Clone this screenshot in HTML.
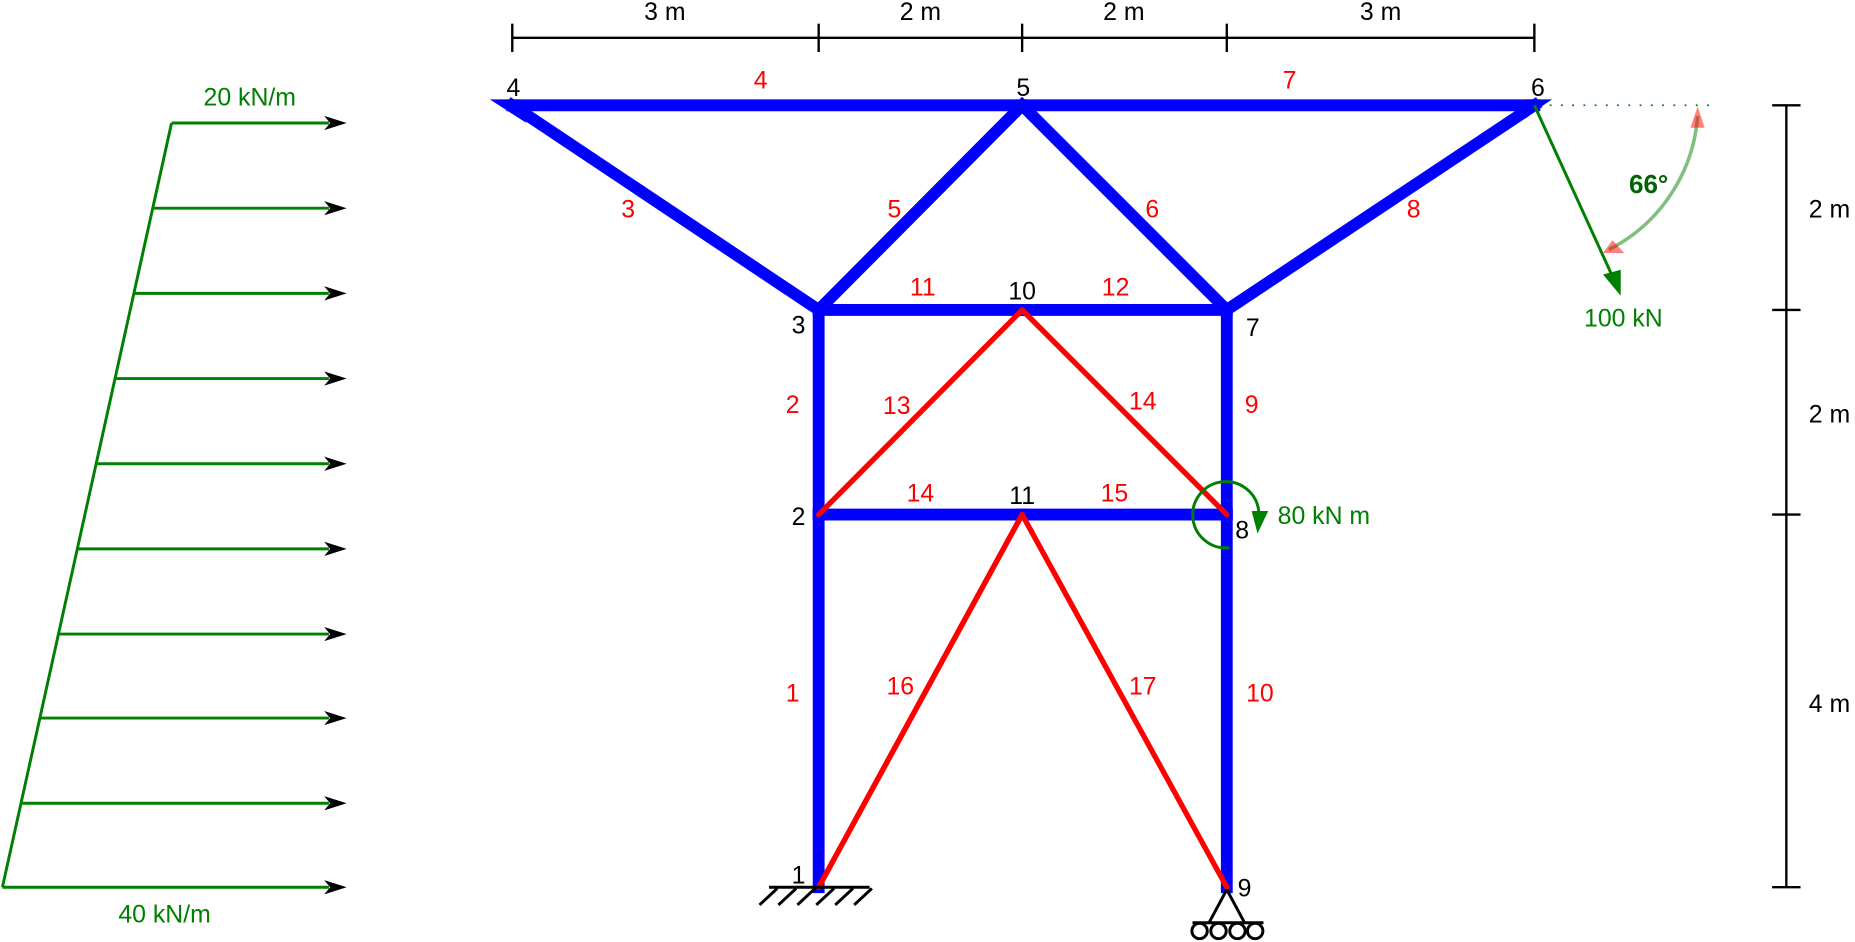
<!DOCTYPE html>
<html><head><meta charset="utf-8"><style>
html,body{margin:0;padding:0;background:#fff;}
svg{display:block;font-family:"Liberation Sans",sans-serif;}
</style></head><body>
<svg id="s" width="1855" height="942" viewBox="0 0 1568 796.3" xmlns="http://www.w3.org/2000/svg">
<g id="load"></g>
<g id="mem"></g>
<g id="lbl"></g>
<g stroke="#000" stroke-width="2.5" fill="none">
<line x1="650" y1="750" x2="735" y2="750"/>
<path d="M665,751 l-15,14 M681,751 l-15,14 M697,751 l-15,14 M713,751 l-15,14 M729,751 l-15,14 M745,751 l-15,14" transform="translate(-8,0)"/>
</g>
<g stroke="#000" stroke-width="2.5" fill="#fff">
<path d="M1037,752 L1022,780 M1037,752 L1052,780" fill="none"/>
<line x1="1008" y1="780" x2="1068" y2="780"/>
<circle cx="1014" cy="787" r="6.5"/><circle cx="1030" cy="787" r="6.5"/><circle cx="1046" cy="787" r="6.5"/><circle cx="1061" cy="787" r="6.5"/>
</g>
<g stroke="#000" stroke-width="2">
<line x1="433" y1="32" x2="1297" y2="32"/>
<line x1="433" y1="20" x2="433" y2="44"/><line x1="692" y1="20" x2="692" y2="44"/><line x1="864" y1="20" x2="864" y2="44"/><line x1="1037" y1="20" x2="1037" y2="44"/><line x1="1297" y1="20" x2="1297" y2="44"/>
</g>
<g font-size="21" text-anchor="middle">
<text x="562" y="17">3 m</text><text x="778" y="17">2 m</text><text x="950" y="17">2 m</text><text x="1167" y="17">3 m</text>
</g>
<g stroke="#000" stroke-width="2">
<line x1="1510" y1="89" x2="1510" y2="750"/>
<line x1="1498" y1="89" x2="1522" y2="89"/><line x1="1498" y1="262" x2="1522" y2="262"/><line x1="1498" y1="435" x2="1522" y2="435"/><line x1="1498" y1="750" x2="1522" y2="750"/>
</g>
<g font-size="21">
<text x="1529" y="184">2 m</text><text x="1529" y="357">2 m</text><text x="1529" y="602">4 m</text>
</g>
<g>
<line x1="1310" y1="89" x2="1450" y2="89" stroke="#008000" stroke-width="1.5" stroke-dasharray="1.5,8"/>
<path d="M1435,98 A138,138 0 0 1 1360,211" fill="none" stroke="#008000" stroke-opacity="0.5" stroke-width="3"/>
<path d="M1435,90 L1429,108 L1441,108 Z" fill="#ff0000" fill-opacity="0.5"/>
<path d="M1355,214 L1373,214 L1363,203 Z" fill="#ff0000" fill-opacity="0.5"/>
<line x1="1297" y1="89" x2="1365" y2="238" stroke="#008000" stroke-width="2.5"/>
<path d="M1370,250 L1355,232 L1370,228 Z" fill="#008000"/>
<text x="1377" y="163" font-size="22" font-weight="bold" fill="#006400">66°</text>
<text x="1339" y="276" font-size="21" fill="#008000">100 kN</text>
</g>
<g>
<path d="M1039,463 A28,28 0 1 1 1064,432" fill="none" stroke="#008000" stroke-width="2.5"/>
<path d="M1058,432 L1072,432 L1063,451 Z" fill="#008000"/>
<text x="1080" y="443" font-size="21" fill="#008000">80 kN m</text>
</g>
<text x="172" y="89" font-size="21" fill="#008000">20 kN/m</text>
<text x="100" y="780" font-size="21" fill="#008000">40 kN/m</text>
<script>
const NS='http://www.w3.org/2000/svg';
const nodeIds=[1,2,3,4,5,6,7,8,9,10,11];
const nodeX=[692,692,692,433,864,1297,1037,1037,1037,864,864];
const nodeY=[750,435,262,89,89,89,262,435,750,262,435];
const memberStart=[1,2,4,4,3,5,5,7,7,8,3,10,2,10,2,11,11,1,11];
const memberEnd  =[2,3,5,3,5,7,6,6,8,9,10,7,10,8,11,8,1,11,9];
const memberType =['b','b','b','b','b','b','b','b','b','b','b','b','r','r','b','b','r','r','r'];
const loadArrowY=[104,176,248,320,392,464,536,607,679,750];
function el(t,a,p){const e=document.createElementNS(NS,t);for(const k in a)e.setAttribute(k,a[k]);p.appendChild(e);return e;}
const mem=document.getElementById('mem');
const pos=id=>[nodeX[nodeIds.indexOf(id)],nodeY[nodeIds.indexOf(id)]];
['b','r'].forEach(t=>{memberStart.forEach((s,i)=>{if(memberType[i]!==t)return;const [x1,y1]=pos(s),[x2,y2]=pos(memberEnd[i]);
const l=el('line',{x1,y1,x2,y2,stroke:t==='b'?'#0000ff':'#ff0000','stroke-width':t==='b'?10:4.5,'stroke-linecap':t==='b'?'square':'round'},mem);

});});
const tipL=el('path',{d:'M414,84 L440,84 L440,94 L445,104 Z',fill:'#0000ff'},mem);


const tipR=el('path',{d:'M1312,84 L1290,84 L1290,100 L1297,94 Z',fill:'#0000ff'},mem);


const lbl=document.getElementById('lbl');
const memberLabels=[['4',643,75],['7',1090,75],['3',531,184],['5',756,184],['6',974,184],['8',1195,184],['11',780,250],['12',943,250],['2',670,349],['13',758,350],['14',966,346],['9',1058,349],['14',778,424],['15',942,424],['1',670,593],['16',761,587],['17',966,587],['10',1065,593]];
memberLabels.forEach(m=>{const t=el('text',{x:m[1],y:m[2],'font-size':21,fill:'#ff0000','text-anchor':'middle'},lbl);t.textContent=m[0];

});
const nodeLabels=[['4',434,81],['5',865,81],['6',1300,81],['10',864,253],['3',675,282],['7',1059,284],['11',864,426],['2',675,444],['8',1050,455],['1',675,747],['9',1052,758]];
nodeLabels.forEach(m=>{const t=el('text',{x:m[1],y:m[2],'font-size':21,fill:'#000','text-anchor':'middle'},lbl);t.textContent=m[0];

});
const load=document.getElementById('load');
const topX=145,botX=2,topY=loadArrowY[0],botY=loadArrowY[loadArrowY.length-1];
const sl=el('line',{x1:topX,y1:topY,x2:botX,y2:botY,stroke:'#008000','stroke-width':2.5},load);


loadArrowY.forEach((y,i)=>{const x=topX+(botX-topX)*(y-topY)/(botY-topY);
const a=el('line',{x1:x,y1:y,x2:278,y2:y,stroke:'#008000','stroke-width':2.5},load);


const h=el('path',{d:`M274,${y-6} L293,${y} L274,${y+6} L279,${y} Z`,fill:'#000'},load);

});
</script>
</svg>
</body></html>
